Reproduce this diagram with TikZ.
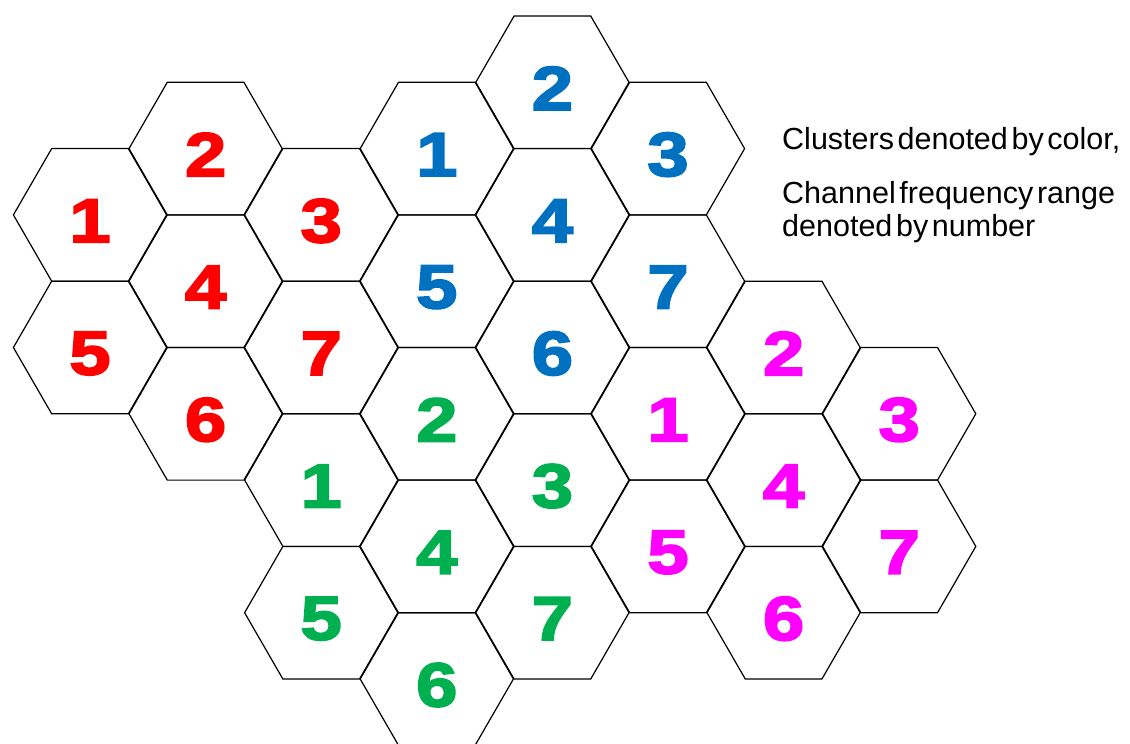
\documentclass[tikz,border=0pt]{standalone}
\usepackage{fontspec}
\setmainfont{Liberation Sans}
\newfontfamily\digitfont[FakeStretch=1.2,FakeBold=3]{Liberation Sans}
\definecolor{redc}{HTML}{FF0000}
\definecolor{bluec}{HTML}{0070C0}
\definecolor{greenc}{HTML}{00B050}
\definecolor{magc}{HTML}{FF00FF}
\begin{document}
\begin{tikzpicture}[x=1pt,y=-1pt]
\tikzset{
  hexcell/.style={draw=black, line width=1.2pt, line join=miter},
  digit/.style={font=\digitfont\bfseries\fontsize{62}{62}\selectfont, inner sep=0pt},
  legend/.style={font=\fontsize{30.5}{34}\selectfont, inner sep=0pt, anchor=base west}
}
\useasboundingbox[fill=white] (0,0) rectangle (1130,744);
\foreach \c/\r/\col/\d/\n in {
  1/3/redc/1/r1, 2/2/redc/2/r2, 3/3/redc/3/r3, 2/4/redc/4/r4, 1/5/redc/5/r5, 2/6/redc/6/r6, 3/5/redc/7/r7,
  4/2/bluec/1/b1, 5/1/bluec/2/b2, 6/2/bluec/3/b3, 5/3/bluec/4/b4, 4/4/bluec/5/b5, 5/5/bluec/6/b6, 6/4/bluec/7/b7,
  3/7/greenc/1/g1, 4/6/greenc/2/g2, 5/7/greenc/3/g3, 4/8/greenc/4/g4, 3/9/greenc/5/g5, 4/10/greenc/6/g6, 5/9/greenc/7/g7,
  6/6/magc/1/m1, 7/5/magc/2/m2, 8/6/magc/3/m3, 7/7/magc/4/m4, 6/8/magc/5/m5, 7/9/magc/6/m6, 8/8/magc/7/m7}
{
  \pgfmathsetmacro\cx{90+115.6*(\c-1)}
  \pgfmathsetmacro\cy{16+66.3*\r}
  \draw[hexcell] (\cx,\cy) +(0:76.6) -- +(60:76.6) -- +(120:76.6) -- +(180:76.6) -- +(240:76.6) -- +(300:76.6) -- cycle;
  \node[digit, text=\col] (\n) at (\cx,\cy+6) {\d};
}
\node[legend] (t1) at (782,149) {\spaceskip=0.12em Clusters denoted by color,};
\node[legend] (t2) at (782,203) {\spaceskip=0.12em Channel frequency range};
\node[legend] (t3) at (782,236.5) {\spaceskip=0.12em denoted by number};
\end{tikzpicture}
\end{document}
